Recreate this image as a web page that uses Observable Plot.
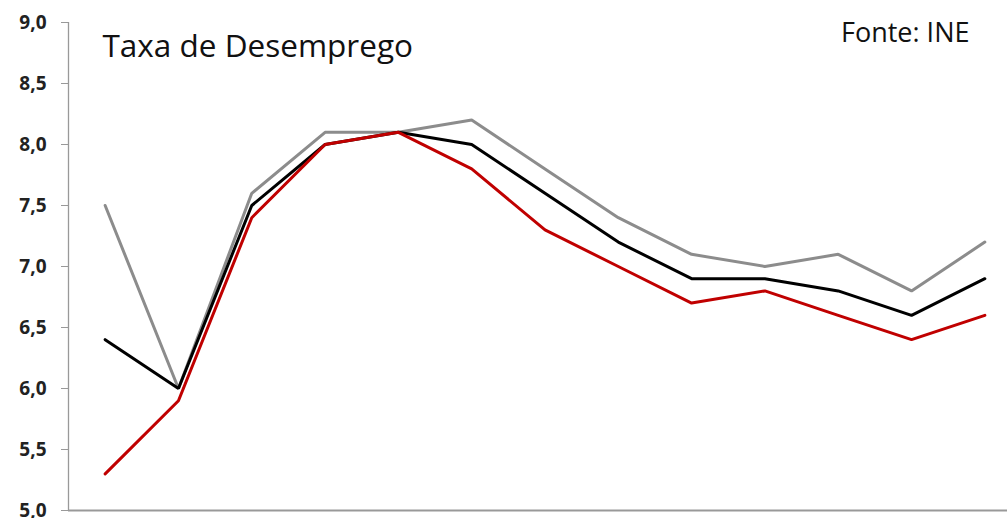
<!DOCTYPE html>
<html>
<head>
<meta charset="utf-8">
<script src="https://cdn.jsdelivr.net/npm/d3@7"></script>
<script src="https://cdn.jsdelivr.net/npm/@observablehq/plot@0.6"></script>
<style>
  html, body { margin: 0; padding: 0; background: #fff; }
  #chart svg { display: block; }
</style>
</head>
<body>
<div id="chart"></div>
<script>
// Period index (13 consecutive observations, no x labels shown)
const periods = [0, 1, 2, 3, 4, 5, 6, 7, 8, 9, 10, 11, 12];
const seriesA = [7.5, 6.0, 7.6, 8.1, 8.1, 8.2, 7.8, 7.4, 7.1, 7.0, 7.1, 6.8, 7.2]; // gray
const seriesB = [6.4, 6.0, 7.5, 8.0, 8.1, 8.0, 7.6, 7.2, 6.9, 6.9, 6.8, 6.6, 6.9]; // black
const seriesC = [5.3, 5.9, 7.4, 8.0, 8.1, 7.8, 7.3, 7.0, 6.7, 6.8, 6.6, 6.4, 6.6]; // red
const seriesKeys = ["A", "B", "C"];
const seriesColors = ["#8c8c8c", "#000000", "#c00000"];
const yTicks = [5.0, 5.5, 6.0, 6.5, 7.0, 7.5, 8.0, 8.5, 9.0];
const title = "Taxa de Desemprego";
const source = "Fonte: INE";

const toRows = (vals, key) => periods.map((p, i) => ({period: p, value: vals[i], series: key}));
const rows = [
  ...toRows(seriesA, "A"),
  ...toRows(seriesB, "B"),
  ...toRows(seriesC, "C")
];

const fmt = v => v.toFixed(1).replace(".", ",");

const chart = Plot.plot({
  width: 1007,
  height: 518,
  marginLeft: 68,
  marginRight: 0,
  marginTop: 22,
  marginBottom: 8,
  style: {background: "#fff"},
  x: {type: "linear", domain: [-0.5, 12.5], range: [68, 1021], axis: null},
  y: {domain: [5, 9], ticks: yTicks, tickFormat: fmt, label: null},
  color: {type: "ordinal", domain: seriesKeys, range: seriesColors},
  marks: [
    Plot.axisY({
      ticks: yTicks,
      tickFormat: fmt,
      tickSize: 7,
      tickPadding: 15,
      stroke: "#999",
      fontSize: 19,
      fontWeight: "bold",
      fontFamily: "'Open Sans', sans-serif",
      fill: "#222",
      label: null
    }),
    Plot.ruleX([-0.5], {stroke: "#999", strokeWidth: 1.3}),
    Plot.ruleY([5], {stroke: "#999", strokeWidth: 2}),
    Plot.lineY(rows, {x: "period", y: "value", z: "series", stroke: "series", strokeWidth: 3, strokeLinejoin: "miter"}),
    Plot.text([title], {
      frameAnchor: "top-left", dx: 34, dy: 12,
      text: d => d, textAnchor: "start", lineAnchor: "top",
      fontSize: 31.5, fontFamily: "'Open Sans', sans-serif", fill: "#111"
    }),
    Plot.text([source], {
      frameAnchor: "top-right", dx: -38, dy: 0,
      text: d => d, textAnchor: "end", lineAnchor: "top",
      fontSize: 27, fontFamily: "'Open Sans', sans-serif", fill: "#111"
    })
  ]
});
document.getElementById("chart").appendChild(chart);
</script>
</body>
</html>
